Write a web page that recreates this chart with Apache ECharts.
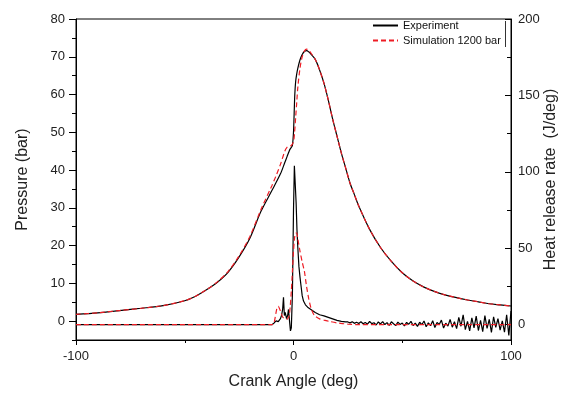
<!DOCTYPE html>
<html>
<head>
<meta charset="utf-8">
<script src="https://cdn.jsdelivr.net/npm/echarts@6/dist/echarts.min.js"></script>
<style>html,body{margin:0;padding:0;background:#fff;}#c{width:563px;height:394px;}</style>
</head>
<body>
<div id="c"></div>
<script>
// Pressure (bar) vs crank angle (deg)
const pExpX = [-100,-90,-80,-70,-60,-50,-45,-40,-35,-30,-25,-20,-15,-10,-6,-4,-3,-2,-1.5,-1,-0.5,0,0.3,0.6,1,1.5,2,3,4,5,6,7,8,10,12,14,16,18,20,22,24,26,28,30,35,40,45,50,55,60,65,70,75,80,85,90,95,100];
const pExp  = [1.8,2.2,2.8,3.4,4.1,5.4,6.6,8.3,10.3,13.0,17.0,22.0,29.0,34.5,39.0,42.0,43.5,45.0,45.6,46.0,46.5,50.0,55.0,60.0,63.5,65.5,67.0,69.2,70.6,71.4,71.6,71.3,70.7,69.3,66.5,63.0,58.5,53.5,49.0,44.5,40.5,36.5,33.5,30.5,24.3,19.5,15.8,12.8,10.6,9.0,7.8,6.9,6.2,5.6,5.1,4.6,4.3,4.0];
const pSimX = [-100,-90,-80,-70,-60,-50,-45,-40,-35,-30,-25,-20,-15,-10,-8,-6,-4,-3,-2,-1,0,0.5,1,1.5,2,3,4,5,6,7,8,10,12,14,16,18,20,22,24,26,28,30,35,40,45,50,55,60,65,70,75,80,85,90,95,100];
const pSim  = [1.8,2.2,2.8,3.4,4.1,5.4,6.6,8.3,10.4,13.2,17.3,22.5,29.5,35.8,38.5,41.5,45.0,46.0,46.3,46.5,47.5,50.0,54.0,58.0,62.0,67.0,70.0,71.5,72.0,71.8,71.0,69.3,66.5,63.0,58.5,53.5,49.0,44.5,40.5,36.5,33.5,30.5,24.3,19.5,15.8,12.8,10.6,9.0,7.8,6.9,6.2,5.6,5.1,4.6,4.3,4.0];

// Heat release rate (J/deg) vs crank angle (deg)
const hExpX = [-100,-10,-9,-8,-7,-6,-5.5,-5,-4.6,-4.2,-3.8,-3.2,-2.7,-2.3,-1.8,-1.4,-1,-0.5,0,0.4,0.8,1.2,1.6,2,2.5,3,3.5,4,4.6,5.5,6.5,8,10,12,14,16,18,20,22,24,
  25,26,27,28,29,30,31,32,33,34,35,36,37,38,39,40,41,42,43,44,45,46,47,48,49,50,51,52,53,54,55,56,57,58,59,60,61,62,63,64,65,66,67,68,69,70,71,72,73,74,75,76,77,78,79,80,81,82,83,84,85,86,87,88,89,90,91,92,93,94,95,96,97,98,99,100];
const hExp  = [0,0,1,2.5,2,4,6,10,18,6,8,4,6,10,2,-4,-2,20,75,104,104,80,62,50,38,31,25,19,15.5,13,11.5,10,8,6.5,5.8,4.8,3.8,2.8,2.2,1.8,
  1.8,1.2,2.0,0.9,1.6,0.8,1.9,0.6,1.5,0.4,2.1,0.7,1.3,-0.2,1.8,0.5,2.0,0.1,1.4,-0.4,1.9,0.6,-0.6,1.7,0.2,1.1,-0.8,1.5,0.3,2.2,-0.5,1.0,-1.1,1.6,0.0,2.4,-1.3,1.2,-0.6,2.6,-1.8,1.4,0.2,3.0,-2.2,1.0,-0.9,3.4,-1.6,2.0,-2.6,4.8,-1.0,6.5,-3.2,2.2,-4.0,4.5,-2.0,5.6,-3.8,2.8,-4.5,6.0,-2.4,3.5,-5.0,5.2,-1.8,4.0,-3.5,2.5,-4.8,6.5,-7.0,9.0];
const hSimX = [-100,-10,-9,-8.4,-7.6,-7,-6,-5,-4,-3,-2,-1.5,-1,-0.5,0,0.5,1,1.5,2,3,4,5,6,7,8,9,10,12,14,17,20,25,30,100];
const hSim  = [0,0,1,5,11,12,9,5,4,3.5,6,12,22,35,48,57,60,60,56,48,41,35,25,17,11,7.5,5.5,3.8,3,2,1.2,0.4,0,0];

const legendNames = ['Experiment','Simulation 1200 bar'];
const xTicks = [-100,0,100];
const pLabels = [0,10,20,30,40,50,60,70,80];
const pMinor = [-5,5,15,25,35,45,55,65,75];
const hLabels = [0,50,100,150,200];
const hMinor = [25,75,125,175];

const zip = (xs, ys) => xs.map((x, i) => [x, ys[i]]);
const FONT = 'Liberation Sans, Arial, sans-serif';
const TXT = '#222';

const chart = echarts.init(document.getElementById('c'), null, {renderer: 'canvas'});
chart.setOption({
  animation: false,
  backgroundColor: '#fff',
  textStyle: {fontFamily: FONT},
  grid: {left: 76, right: 52, top: 19, bottom: 54, show: true, borderColor: '#000', borderWidth: 1,
         backgroundColor: 'transparent', containLabel: false, outerBoundsMode: 'none'},
  legend: {
    data: legendNames, orient: 'vertical', left: 372, top: 20, itemWidth: 25, itemHeight: 10, itemGap: 4,
    textStyle: {fontSize: 11, color: '#111', fontFamily: FONT}, padding: 0, selectedMode: false,
    itemStyle: {color: 'transparent', borderColor: 'transparent', borderWidth: 0, opacity: 0}
  },
  xAxis: {
    type: 'value', min: -100, max: 100, interval: 100,
    name: 'Crank Angle (deg)', nameLocation: 'middle', nameGap: 34, nameMoveOverlap: false,
    nameTextStyle: {fontSize: 16, color: TXT, fontFamily: FONT},
    axisLine: {onZero: false, lineStyle: {color: '#000', width: 1}},
    axisTick: {show: true, length: 5, lineStyle: {color: '#000'}},
    minorTick: {show: true, splitNumber: 2, length: 3, lineStyle: {color: '#000'}},
    axisLabel: {fontSize: 13, color: TXT, margin: 10, fontFamily: FONT, customValues: xTicks},
    splitLine: {show: false}, minorSplitLine: {show: false}
  },
  yAxis: [
    {
      type: 'value', min: -5, max: 80, position: 'left',
      name: 'Pressure (bar)', nameLocation: 'middle', nameGap: 45, nameMoveOverlap: false,
      nameTextStyle: {fontSize: 16, color: TXT, fontFamily: FONT},
      axisLine: {show: true, onZero: false, lineStyle: {color: '#000'}},
      axisTick: {show: true, length: 7, customValues: pLabels, lineStyle: {color: '#000'}},
      axisLabel: {fontSize: 13, color: TXT, margin: 11, customValues: pLabels, fontFamily: FONT},
      splitLine: {show: false}
    },
    {
      type: 'value', min: -10, max: 200, position: 'right',
      name: 'Heat release rate  (J/deg)', nameLocation: 'middle', nameGap: 32, nameMoveOverlap: false,
      nameTextStyle: {fontSize: 16, color: TXT, fontFamily: FONT},
      axisLine: {show: true, onZero: false, lineStyle: {color: '#000'}},
      axisTick: {show: true, inside: true, length: 6, customValues: hLabels, lineStyle: {color: '#000'}},
      axisLabel: {fontSize: 13, color: TXT, margin: 7, customValues: hLabels, fontFamily: FONT},
      splitLine: {show: false}
    },
    {
      type: 'value', min: -5, max: 80, position: 'left',
      axisLine: {show: false, onZero: false}, axisLabel: {show: false}, splitLine: {show: false},
      axisTick: {show: true, length: 4, customValues: pMinor, lineStyle: {color: '#000'}}
    },
    {
      type: 'value', min: -10, max: 200, position: 'right',
      axisLine: {show: false, onZero: false}, axisLabel: {show: false}, splitLine: {show: false},
      axisTick: {show: true, inside: true, length: 4, customValues: hMinor, lineStyle: {color: '#000'}}
    }
  ],
  graphic: [
    {type: 'line', shape: {x1: 505.5, y1: 21, x2: 505.5, y2: 47}, style: {stroke: '#333', lineWidth: 1}, silent: true}
  ],
  series: [
    {name: legendNames[0], type: 'line', yAxisIndex: 0, data: zip(pExpX, pExp), showSymbol: false, symbol: 'none', smooth: 0.3,
     lineStyle: {color: '#000', width: 1.2}, itemStyle: {color: '#000'}, z: 2},
    {name: legendNames[0], type: 'line', yAxisIndex: 1, data: zip(hExpX, hExp), showSymbol: false, symbol: 'none',
     lineStyle: {color: '#000', width: 1.2}, itemStyle: {color: '#000'}, z: 2},
    {name: legendNames[1], type: 'line', yAxisIndex: 0, data: zip(pSimX, pSim), showSymbol: false, symbol: 'none', smooth: 0.3,
     lineStyle: {color: '#ee1c24', width: 1.2, type: [5, 3]}, itemStyle: {color: '#ee1c24'}, z: 3},
    {name: legendNames[1], type: 'line', yAxisIndex: 1, data: zip(hSimX, hSim), showSymbol: false, symbol: 'none', smooth: 0.2,
     lineStyle: {color: '#ee1c24', width: 1.2, type: [5, 3]}, itemStyle: {color: '#ee1c24'}, z: 3}
  ]
});
</script>
</body>
</html>
